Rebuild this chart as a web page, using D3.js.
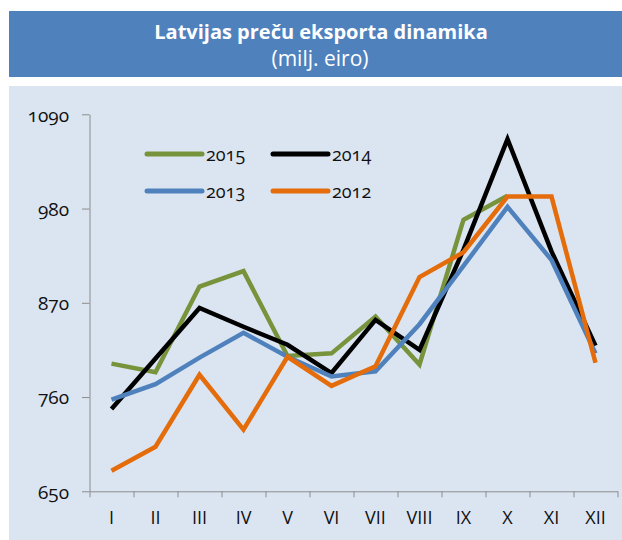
<!DOCTYPE html>
<html>
<head>
<meta charset="utf-8">
<script src="https://cdn.jsdelivr.net/npm/d3@7"></script>
<style>
  body { margin: 0; background: #fff; }
  svg text { font-family: "Open Sans", "Noto Sans", sans-serif; font-feature-settings: "onum"; }
</style>
</head>
<body>
<svg id="chart" width="622" height="540"></svg>
<script>
// month labels
var months = ['I', 'II', 'III', 'IV', 'V', 'VI', 'VII', 'VIII', 'IX', 'X', 'XI', 'XII'];
var yTicks = [650, 760, 870, 980, 1090];

// export values, milj. eiro
var y2015 = [799, 789, 889, 907, 808, 811, 854, 798, 967, 995];
var y2014 = [746, 805, 864, 842, 821, 788, 850, 815, 932, 1061, 930, 820];
var y2013 = [757, 775, 806, 835, 807, 784, 790, 845, 913, 982, 920, 811];
var y2012 = [674, 702, 786, 722, 807, 773, 796, 900, 929, 994, 994, 800];

var seriesNames = ['2015', '2014', '2013', '2012'];

(function() {
  var svg = d3.select('#chart');
  var colors = { '2015': '#77933c', '2014': '#000000', '2013': '#4f81bd', '2012': '#e46c0a' };
  var values = { '2015': y2015, '2014': y2014, '2013': y2013, '2012': y2012 };

  // title box
  svg.append('rect').attr('x', 9).attr('y', 11).attr('width', 613).attr('height', 66)
    .attr('fill', '#4f81bd');
  svg.append('text').attr('x', 321).attr('y', 39).attr('text-anchor', 'middle')
    .attr('fill', '#fff').style('font-size', '20px').style('font-weight', 'bold')
    .text('Latvijas preču eksporta dinamika');
  svg.append('text').attr('x', 320).attr('y', 66).attr('text-anchor', 'middle')
    .attr('fill', '#fff').style('font-size', '21px')
    .text('(milj. eiro)');

  // plot background
  svg.append('rect').attr('x', 9).attr('y', 86).attr('width', 613).attr('height', 454)
    .attr('fill', '#dbe5f1');

  var left = 89.5, right = 617.5, top = 114.3, bottom = 491.3;

  var x = d3.scaleBand().domain(months).range([left, right]);
  var xEdge = d3.scaleLinear().domain([0, 12]).range([left, right]);
  var y = d3.scaleLinear().domain([650, 1090]).range([bottom, top]);

  var axisColor = '#8c8c8c';

  // y axis
  var gy = svg.append('g').attr('transform', 'translate(' + left + ',0)')
    .call(d3.axisLeft(y).tickValues(yTicks).tickFormat(d3.format('d'))
      .tickSize(7.5).tickPadding(13).tickSizeOuter(0));
  gy.selectAll('path, line').attr('stroke', axisColor);
  gy.selectAll('text').attr('fill', '#111').style('font-size', '19px').attr('dy', '0.36em');

  // x axis: ticks between categories
  var gxTicks = svg.append('g').attr('transform', 'translate(0,' + bottom + ')')
    .call(d3.axisBottom(xEdge).tickValues(d3.range(0, 13)).tickSize(6).tickFormat('').tickSizeOuter(0));
  gxTicks.selectAll('path, line').attr('stroke', axisColor);

  var gx = svg.append('g').attr('transform', 'translate(0,' + bottom + ')')
    .call(d3.axisBottom(x).tickSize(0).tickPadding(20));
  gx.select('.domain').remove();
  gx.selectAll('text').attr('fill', '#111').style('font-size', '18px');

  var line = d3.line()
    .x(function(d, i) { return x(months[i]) + x.bandwidth() / 2; })
    .y(function(d) { return y(d); });

  seriesNames.forEach(function(name) {
    svg.append('path')
      .datum(values[name])
      .attr('fill', 'none')
      .attr('stroke', colors[name])
      .attr('stroke-width', 4.5)
      .attr('stroke-linejoin', 'miter')
      .attr('d', line);
  });

  // legend
  var legendPos = [
    { name: '2015', x: 147, y: 154 },
    { name: '2014', x: 273, y: 154 },
    { name: '2013', x: 147, y: 191 },
    { name: '2012', x: 273, y: 191 }
  ];
  legendPos.forEach(function(d) {
    svg.append('line').attr('x1', d.x).attr('x2', d.x + 55).attr('y1', d.y).attr('y2', d.y)
      .attr('stroke', colors[d.name]).attr('stroke-width', 5).attr('stroke-linecap', 'round');
    svg.append('text').attr('x', d.x + 59).attr('y', d.y + 6.5)
      .attr('fill', '#111').style('font-size', '18px').text(d.name);
  });
})();
</script>
</body>
</html>
